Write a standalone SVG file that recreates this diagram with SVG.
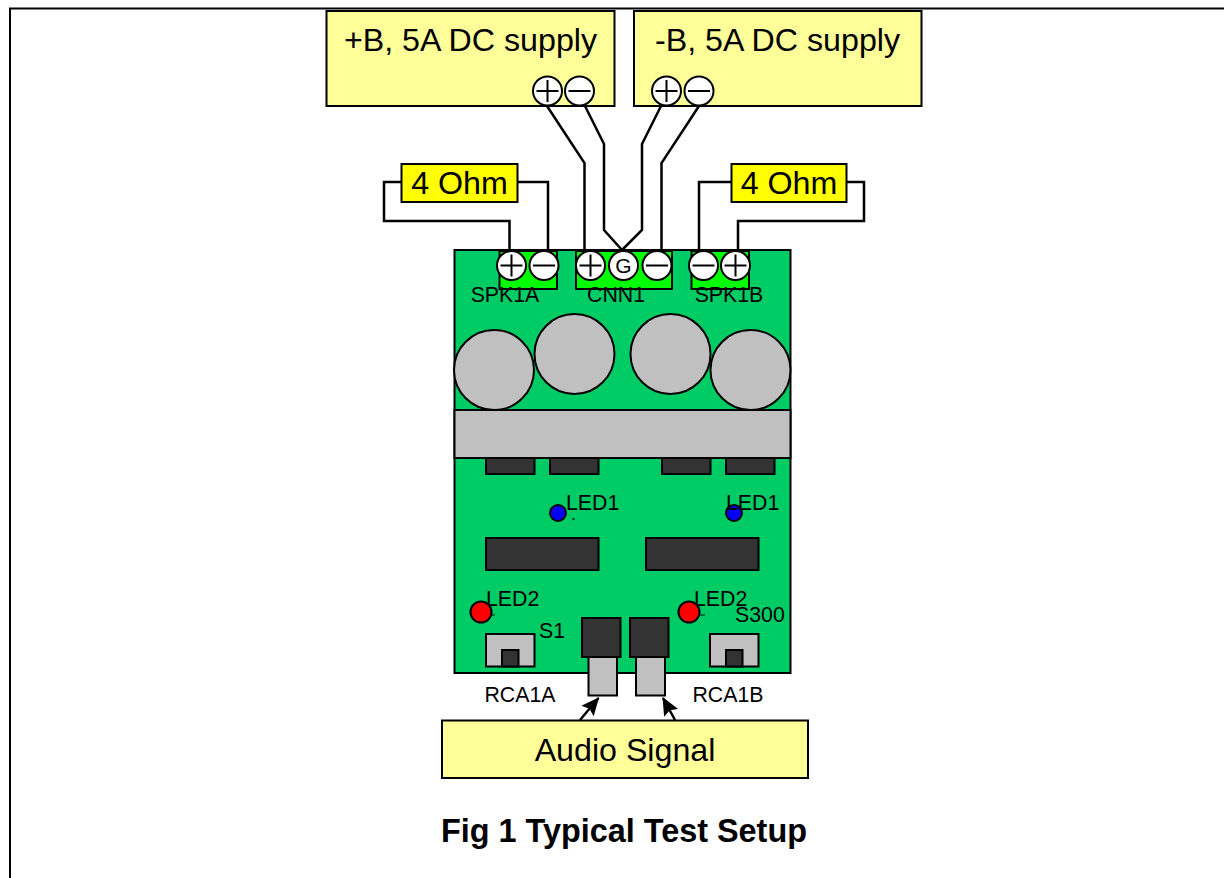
<svg xmlns="http://www.w3.org/2000/svg" width="1224" height="878" viewBox="0 0 1224 878">
<style>
text{font-family:"Liberation Sans",Arial,sans-serif;fill:#000}
.sup{fill:#ffff99;stroke:#000;stroke-width:2}
.ohm{fill:#ffff00;stroke:#000;stroke-width:2}
.conn{fill:#00ff00;stroke:#000;stroke-width:2}
.dark{fill:#333333;stroke:#000;stroke-width:2}
.grey{fill:#c0c0c0;stroke:#000;stroke-width:2}
.t{fill:#fff;stroke:#000;stroke-width:2}
.w{fill:none;stroke:#000;stroke-width:2.5}
.l{font-size:21.300px}
.m{font-size:32.200px}
.p{fill:none;stroke:#000;stroke-width:2}
.d{fill:none;stroke:#000;stroke-width:1}
</style>
<defs>
<g id="plus"><circle class="t" r="14.500"/><path class="p" d="M-11 0H11M0-11V11"/></g>
<g id="minus"><circle class="t" r="14.500"/><path class="p" d="M-11 0H11"/></g>
<marker id="arr" markerUnits="userSpaceOnUse" markerWidth="20" markerHeight="20" refX="17" refY="10" orient="auto"><path d="M0 2L18 10L0 18L3 10Z" fill="#000"/></marker>
</defs>
<path id="frame" d="M10 878V8.500H1224" fill="none" stroke="#000" stroke-width="2"/>
<g id="board"><rect x="454.500" y="250" width="336" height="423" fill="#00cc66" stroke="#000" stroke-width="2"/></g>
<g id="supply-pos"><rect class="sup" x="326.500" y="11" width="288" height="95"/><text x="470.500" y="51" text-anchor="middle" class="m">+B, 5A DC supply</text><use href="#plus" x="547.500" y="91"/><use href="#minus" x="579.500" y="91"/></g>
<g id="supply-neg"><rect class="sup" x="634" y="11" width="287.500" height="95"/><text x="777.500" y="51" text-anchor="middle" class="m">-B, 5A DC supply</text><use href="#plus" x="666.500" y="91"/><use href="#minus" x="699" y="91"/></g>
<g id="connectors">
<path class="w" d="M547 106L584.500 163V250"/>
<path class="w" d="M585 106L604 144V230L622 250"/>
<path class="w" d="M661 106L642 144V230L622 250"/>
<path class="w" d="M699 106L661.500 163V250"/>
<path class="w" d="M401 182H384V221H509.500V250"/>
<path class="w" d="M517 182H548V250"/>
<path class="w" d="M731 182H699V250"/>
<path class="w" d="M846 182H864V221H738V250"/>
<path class="w" d="M580 720L598.500 698" marker-end="url(#arr)"/>
<path class="w" d="M675 720L663 698" marker-end="url(#arr)"/>
</g>
<g id="load-a"><rect class="ohm" x="401.500" y="164" width="116" height="38"/><text x="459.500" y="194" text-anchor="middle" class="m">4 Ohm</text></g>
<g id="load-b"><rect class="ohm" x="731.500" y="164" width="115" height="38"/><text x="789" y="194" text-anchor="middle" class="m">4 Ohm</text></g>
<g id="spk1a"><rect class="conn" x="499.500" y="251" width="57.500" height="38"/><use href="#plus" x="511.500" y="265.500"/><use href="#minus" x="544" y="265.500"/><text x="505" y="302" text-anchor="middle" class="l">SPK1A</text></g>
<g id="cnn1"><rect class="conn" x="576" y="251" width="96" height="38"/><use href="#plus" x="590.500" y="265.500"/><circle class="t" cx="623.500" cy="265.500" r="14.500"/><text x="623.500" y="273" text-anchor="middle" font-size="21">G</text><use href="#minus" x="657" y="265.500"/><text x="616" y="302" text-anchor="middle" class="l">CNN1</text></g>
<g id="spk1b"><rect class="conn" x="691.500" y="251" width="57.500" height="38"/><use href="#minus" x="703.500" y="265.500"/><use href="#plus" x="735.500" y="265.500"/><text x="729" y="302" text-anchor="middle" class="l">SPK1B</text></g>
<g id="caps">
<circle class="grey" cx="494" cy="370" r="40"/><circle class="grey" cx="574.500" cy="354" r="40"/><circle class="grey" cx="670.500" cy="354" r="40"/><circle class="grey" cx="750.500" cy="370" r="40"/>
</g>
<g id="heatsink"><rect class="grey" x="454.500" y="410" width="336" height="48"/></g>
<g id="fets"><rect class="dark" x="486" y="458" width="48.500" height="16"/><rect class="dark" x="550" y="458" width="48.500" height="16"/><rect class="dark" x="662" y="458" width="48.500" height="16"/><rect class="dark" x="726" y="458" width="48.500" height="16"/></g>
<g id="led1a"><circle cx="558" cy="513" r="8" fill="#0000ff" stroke="#000" stroke-width="2"/><text x="566" y="510" class="l">LED1</text><path class="d" d="M572 519H575"/></g>
<g id="led1b"><circle cx="734" cy="513" r="8" fill="#0000ff" stroke="#000" stroke-width="2"/><text x="726" y="510" class="l">LED1</text><path class="d" d="M731 508.500H738"/></g>
<g id="ics"><rect class="dark" x="486" y="538" width="112.500" height="32"/><rect class="dark" x="646" y="538" width="112.500" height="32"/></g>
<g id="led2a"><circle cx="481" cy="612" r="10.500" fill="#ff0000" stroke="#000" stroke-width="2"/><text x="486" y="606" class="l">LED2</text><path class="d" d="M490 615H495"/></g>
<g id="led2b"><circle cx="689" cy="612" r="10.500" fill="#ff0000" stroke="#000" stroke-width="2"/><text x="694" y="606" class="l">LED2</text><path class="d" d="M698 615H705"/></g>
<g id="s1"><rect class="grey" x="486" y="634" width="48.500" height="32.500"/><rect class="dark" x="502" y="650" width="16.500" height="16.500"/><text x="539" y="638" class="l">S1</text></g>
<g id="s300"><rect class="grey" x="710" y="634" width="48.500" height="32.500"/><rect class="dark" x="726" y="650" width="16.500" height="16.500"/><text x="735" y="622" class="l">S300</text></g>
<g id="rca1a"><rect class="grey" x="588.500" y="657" width="28.500" height="38.500"/><rect class="dark" x="582" y="618" width="38.500" height="39"/><text x="520" y="702" text-anchor="middle" class="l">RCA1A</text></g>
<g id="rca1b"><rect class="grey" x="636" y="657" width="29" height="38.500"/><rect class="dark" x="630" y="618" width="38.500" height="39"/><text x="728" y="702" text-anchor="middle" class="l">RCA1B</text></g>
<g id="audio"><rect class="sup" x="442" y="720.500" width="366" height="57.500"/><text x="625" y="761" text-anchor="middle" class="m">Audio Signal</text></g>
<text id="title" x="624" y="842" text-anchor="middle" font-size="32.400" font-weight="700">Fig 1 Typical Test Setup</text>
</svg>
